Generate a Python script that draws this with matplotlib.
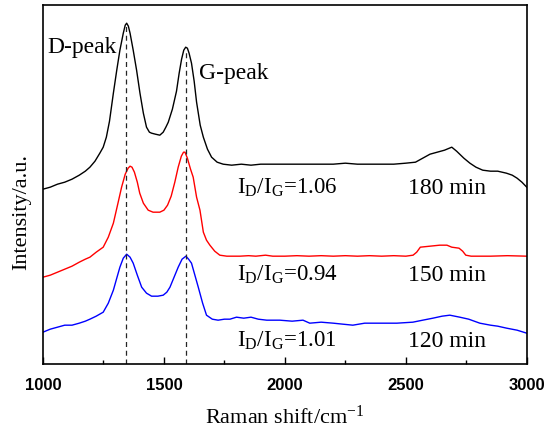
# Raman spectra of three samples, offset vertically
import matplotlib
matplotlib.use('Agg')
import matplotlib.pyplot as plt
from matplotlib.ticker import MultipleLocator

plt.rcParams['font.family'] = ['Liberation Serif', 'DejaVu Serif']
plt.rcParams['mathtext.fontset'] = 'custom'
plt.rcParams['mathtext.rm'] = 'Liberation Serif'
plt.rcParams['mathtext.it'] = 'Liberation Serif:italic'

# spectra (intensity in arbitrary units, already offset)
black_x = [1000, 1030, 1060, 1090, 1120, 1150, 1175, 1194, 1215, 1235, 1249, 1262, 1275, 1291,
           1305, 1318, 1332, 1340, 1346, 1353, 1360, 1373, 1387, 1401, 1415, 1428, 1440, 1449,
           1465, 1483, 1497, 1508, 1518, 1535, 1552, 1563, 1573, 1582, 1590, 1597, 1604, 1614,
           1625, 1635, 1650, 1663, 1680, 1697, 1720, 1745, 1780, 1820, 1860, 1900, 1950, 2000,
           2050, 2100, 2150, 2200, 2250, 2300, 2350, 2400, 2450, 2500, 2540, 2570, 2600, 2630,
           2660, 2690, 2710, 2740, 2765, 2790, 2818, 2850, 2880, 2916, 2940, 2960, 2980, 3000]
black_y = [176, 178, 181, 183, 186, 190, 194, 198, 204, 212, 218, 228, 244, 272,
           295, 315, 332, 340, 342, 339, 332, 315, 295, 272, 252, 238, 233, 232,
           231, 230, 233, 238, 243, 256, 274, 292, 306, 315, 318, 317, 312, 302,
           284, 263, 240, 228, 216, 208, 203, 201, 200, 201, 200, 201, 201, 201,
           201, 201, 201, 201, 202, 201, 201, 201, 201, 202, 203, 207, 211, 213,
           215, 218, 214, 207, 202, 198, 195, 194, 194, 192, 190, 187, 183, 178]

red_x = [1000, 1030, 1060, 1090, 1120, 1150, 1175, 1194, 1220, 1249, 1270, 1291, 1310, 1325,
         1340, 1352, 1360, 1368, 1378, 1390, 1400, 1415, 1435, 1455, 1483, 1500, 1515, 1530,
         1545, 1559, 1572, 1581, 1587, 1597, 1610, 1621, 1635, 1649, 1663, 1676, 1690, 1710,
         1731, 1760, 1814, 1850, 1880, 1920, 1950, 2000, 2050, 2100, 2150, 2200, 2250, 2300,
         2350, 2400, 2450, 2500, 2530, 2545, 2560, 2600, 2640, 2670, 2690, 2720, 2735, 2748,
         2770, 2850, 2920, 3000]
red_y = [88, 90, 93, 96, 99, 103, 106, 108, 113, 118, 128, 142, 162, 178,
         191, 197, 199, 198, 193, 183, 172, 162, 155, 153, 153, 155, 160, 169,
         183, 198, 209, 213, 213, 207, 196, 188, 168, 155, 133, 125, 120, 114,
         110, 109, 109, 109.5, 109, 110, 109, 109, 109.5, 109, 109.5, 109, 109.5, 109,
         109.5, 109, 109.5, 109, 110, 113, 118, 119, 120, 120, 118, 117, 114, 110,
         109, 109, 109.5, 109]

blue_x = [1000, 1030, 1060, 1090, 1120, 1150, 1175, 1194, 1220, 1249, 1270, 1291, 1305, 1318,
          1332, 1346, 1360, 1373, 1390, 1408, 1428, 1449, 1475, 1497, 1512, 1525, 1542, 1559,
          1575, 1591, 1602, 1614, 1628, 1642, 1660, 1676, 1700, 1724, 1750, 1773, 1800, 1830,
          1860, 1890, 1925, 1979, 2030, 2075, 2103, 2150, 2200, 2240, 2281, 2330, 2393, 2463,
          2529, 2570, 2612, 2650, 2682, 2723, 2760, 2806, 2850, 2880, 2917, 2960, 3000]
blue_y = [33, 36, 38, 40, 40, 42, 44, 46, 49, 53, 62, 75, 87, 98,
          107, 111, 108, 102, 90, 78, 72, 69, 69, 70, 73, 78, 88, 98,
          106, 109, 106, 102, 90, 78, 62, 50, 46, 45, 46, 46, 48, 47,
          48, 46, 45, 45, 44, 45, 42, 43, 42, 41, 40, 42, 42, 42,
          43, 45, 47, 49, 50, 48, 46, 42, 40, 39, 37, 35, 32]

peak_pos = [1345, 1592]
peak_top = [340, 316]
peak_names = ['D-peak', 'G-peak']
ratios = ['1.06', '0.94', '1.01']
times = ['180 min', '150 min', '120 min']
label_y = [171, 84, 18]

fig = plt.figure(figsize=(5.51, 4.32), dpi=100)
ax = fig.add_axes([0.078, 0.157, 0.878, 0.831])

ax.plot(black_x, black_y, color='black', lw=1.0)
ax.plot(red_x, red_y, color='red', lw=1.0)
ax.plot(blue_x, blue_y, color='blue', lw=1.0)

# dashed guides through the peak centres
for xp, top in zip(peak_pos, peak_top):
    ax.plot([xp, xp], [1, top], color='0.15', lw=0.9, dashes=(4, 3))

ax.text(1019, 318, peak_names[0], ha='left', va='center', fontsize=17)
ax.text(1643, 292, peak_names[1], ha='left', va='center', fontsize=17)

for r, t, yy in zip(ratios, times, label_y):
    ax.text(1802, yy, r'I$_{\mathrm{D}}$/I$_{\mathrm{G}}$=' + r, ha='left', va='baseline', fontsize=16.5)
    ax.text(2508, yy, t, ha='left', va='baseline', fontsize=17)

ax.set_xlim(1000, 3000)
ax.set_ylim(1, 360)
ax.xaxis.set_major_locator(MultipleLocator(500))
ax.xaxis.set_minor_locator(MultipleLocator(250))
ax.tick_params(axis='x', which='major', direction='in', length=5, width=1, pad=10)
ax.tick_params(axis='x', which='minor', direction='in', length=3, width=1)
ax.set_yticks([])
for lab in ax.get_xticklabels():
    lab.set_fontfamily('Liberation Sans')
    lab.set_fontweight('bold')
    lab.set_fontsize(12)
for s in ax.spines.values():
    s.set_linewidth(1.2)

ax.set_xlabel(r'Raman shift/cm$^{-1}$', fontsize=16, labelpad=9)
ax.set_ylabel('Intensity/a.u.', fontsize=16)
ax.yaxis.set_label_coords(-0.025, 0.425)

fig.savefig('out.png', dpi=100)
